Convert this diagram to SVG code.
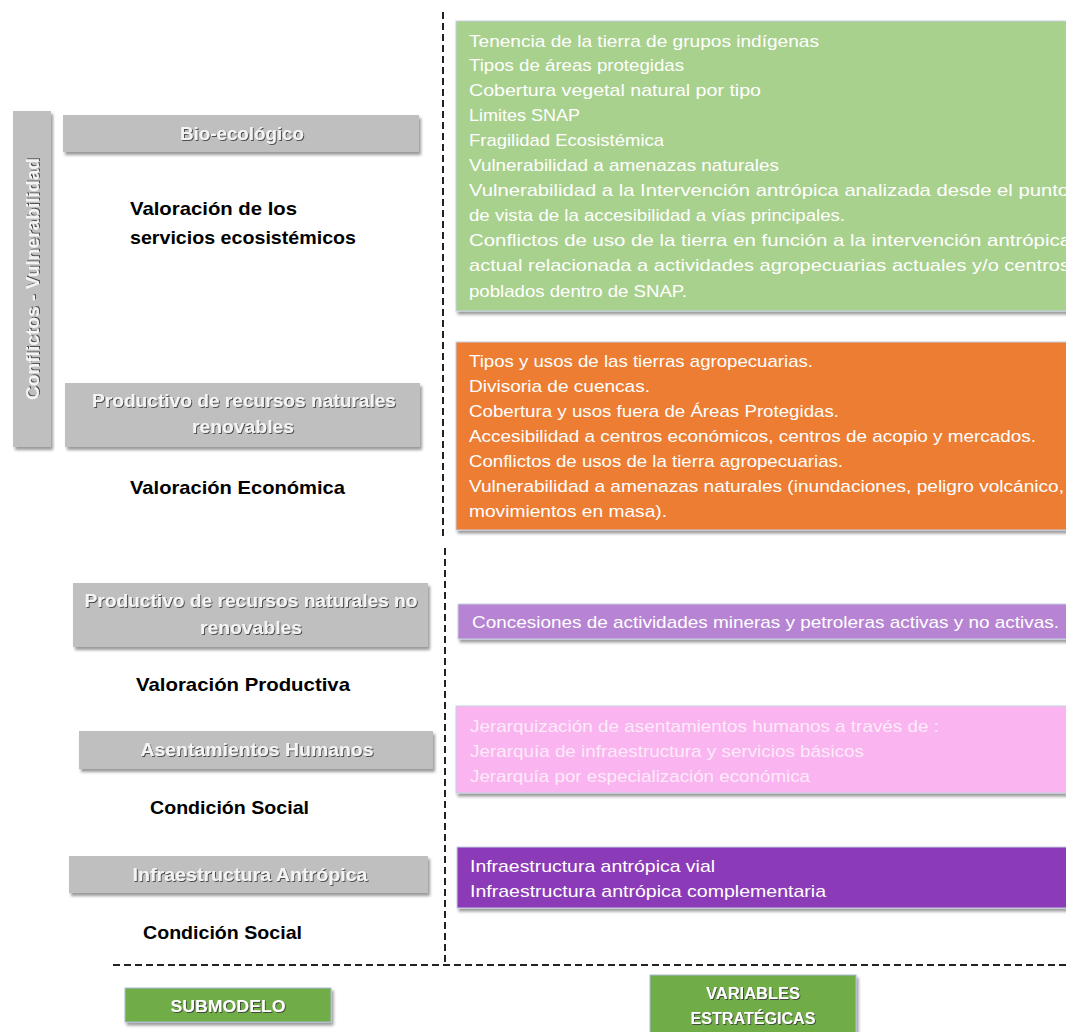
<svg xmlns="http://www.w3.org/2000/svg" width="1066" height="1032" viewBox="0 0 1066 1032">
<defs>
<filter id="sh" x="-5%" y="-20%" width="115%" height="160%">
<feDropShadow dx="2" dy="3" stdDeviation="1.5" flood-color="#000" flood-opacity="0.4"/>
</filter>
<filter id="tsh" x="-5%" y="-30%" width="110%" height="160%">
<feDropShadow dx="1" dy="1" stdDeviation="0.7" flood-color="#3a3a3a" flood-opacity="0.85"/>
</filter>
<style>
.gb{fill:#BFBFBF;filter:url(#sh);}
.gt{font-family:"Liberation Sans",Arial,sans-serif;font-weight:bold;font-size:18px;fill:#F4F4F4;text-anchor:middle;filter:url(#tsh);}
.bt{font-family:"Liberation Sans",Arial,sans-serif;font-weight:bold;font-size:19px;fill:#000;}
.vb{stroke:#C5D0E2;stroke-width:1;filter:url(#sh);}
.vt{font-family:"Liberation Sans",Arial,sans-serif;font-size:17px;fill:#fff;}
.pk{fill:#FDEBFA;}
.dash{fill:none;stroke:#222;stroke-width:2;stroke-dasharray:7 4;}
.bg{fill:#70AD47;stroke:#A9BCD8;stroke-width:1;filter:url(#sh);}
.bgt{font-family:"Liberation Sans",Arial,sans-serif;font-weight:bold;font-size:16px;fill:#fff;text-anchor:middle;filter:url(#tsh);}
</style>
</defs>
<rect width="1066" height="1032" fill="#fff"/>

<g id="connectors">
<line class="dash" x1="443" y1="12" x2="443" y2="538"/>
<line class="dash" x1="445" y1="548" x2="445" y2="962"/>
<line class="dash" x1="113" y1="965" x2="1066" y2="965"/>
</g>

<g id="conflictos">
<rect class="gb" x="13" y="111" width="38" height="336"/>
<text class="gt" transform="translate(39,279) rotate(-90)" textLength="242" lengthAdjust="spacingAndGlyphs">Conflictos - Vulnerabilidad</text>
</g>

<g id="bio">
<rect class="gb" x="63" y="115" width="356" height="37"/>
<text class="gt" x="242" y="140" textLength="124" lengthAdjust="spacingAndGlyphs">Bio-ecológico</text>
</g>
<g id="val-eco">
<text class="bt" x="130" y="215" textLength="167" lengthAdjust="spacingAndGlyphs">Valoración de los</text>
<text class="bt" x="130" y="244" textLength="226" lengthAdjust="spacingAndGlyphs">servicios ecosistémicos</text>
</g>

<g id="prod-ren">
<rect class="gb" x="65" y="383" width="355" height="64"/>
<text class="gt" x="244" y="407" textLength="304" lengthAdjust="spacingAndGlyphs">Productivo de recursos naturales</text>
<text class="gt" x="243" y="433" textLength="102" lengthAdjust="spacingAndGlyphs">renovables</text>
</g>
<g id="val-econ">
<text class="bt" x="130" y="494" textLength="215" lengthAdjust="spacingAndGlyphs">Valoración Económica</text>
</g>

<g id="prod-noren">
<rect class="gb" x="73" y="583" width="355" height="64"/>
<text class="gt" x="251" y="607" textLength="333" lengthAdjust="spacingAndGlyphs">Productivo de recursos naturales no</text>
<text class="gt" x="251" y="634" textLength="102" lengthAdjust="spacingAndGlyphs">renovables</text>
</g>
<g id="val-prod">
<text class="bt" x="136" y="691" textLength="214" lengthAdjust="spacingAndGlyphs">Valoración Productiva</text>
</g>

<g id="asent">
<rect class="gb" x="79" y="731" width="354" height="38"/>
<text class="gt" x="257" y="756" textLength="233" lengthAdjust="spacingAndGlyphs">Asentamientos Humanos</text>
</g>
<g id="cond1">
<text class="bt" x="150" y="814" textLength="159" lengthAdjust="spacingAndGlyphs">Condición Social</text>
</g>

<g id="infra">
<rect class="gb" x="69" y="856" width="359" height="37"/>
<text class="gt" x="250" y="881" textLength="235" lengthAdjust="spacingAndGlyphs">Infraestructura Antrópica</text>
</g>
<g id="cond2">
<text class="bt" x="143" y="939" textLength="159" lengthAdjust="spacingAndGlyphs">Condición Social</text>
</g>

<g id="var-bio">
<rect class="vb" x="456" y="21" width="620" height="290" fill="#A9D18E"/>
<text class="vt" x="469" y="47" textLength="350" lengthAdjust="spacingAndGlyphs">Tenencia de la tierra  de grupos indígenas</text>
<text class="vt" x="469" y="71" textLength="215" lengthAdjust="spacingAndGlyphs">Tipos de áreas protegidas</text>
<text class="vt" x="469" y="96" textLength="292" lengthAdjust="spacingAndGlyphs">Cobertura vegetal natural  por tipo</text>
<text class="vt" x="469" y="121" textLength="111" lengthAdjust="spacingAndGlyphs">Limites SNAP</text>
<text class="vt" x="469" y="146" textLength="195" lengthAdjust="spacingAndGlyphs">Fragilidad Ecosistémica</text>
<text class="vt" x="469" y="171" textLength="310" lengthAdjust="spacingAndGlyphs">Vulnerabilidad a amenazas naturales</text>
<text class="vt" x="469" y="196" textLength="600" lengthAdjust="spacingAndGlyphs">Vulnerabilidad a la Intervención  antrópica analizada desde el punto</text>
<text class="vt" x="469" y="221" textLength="376" lengthAdjust="spacingAndGlyphs">de vista de la accesibilidad a vías principales.</text>
<text class="vt" x="469" y="246" textLength="602" lengthAdjust="spacingAndGlyphs">Conflictos de uso  de la tierra en función a la intervención antrópica</text>
<text class="vt" x="469" y="271" textLength="601" lengthAdjust="spacingAndGlyphs">actual relacionada a actividades agropecuarias actuales y/o centros</text>
<text class="vt" x="469" y="297" textLength="218" lengthAdjust="spacingAndGlyphs">poblados dentro de SNAP.</text>
</g>

<g id="var-prod-ren">
<rect class="vb" x="456" y="342" width="620" height="188" fill="#ED7D31"/>
<text class="vt" x="469" y="367" textLength="344" lengthAdjust="spacingAndGlyphs">Tipos y usos de las tierras agropecuarias.</text>
<text class="vt" x="469" y="392" textLength="181" lengthAdjust="spacingAndGlyphs">Divisoria de cuencas.</text>
<text class="vt" x="469" y="417" textLength="370" lengthAdjust="spacingAndGlyphs">Cobertura y usos fuera de Áreas Protegidas.</text>
<text class="vt" x="469" y="442" textLength="567" lengthAdjust="spacingAndGlyphs">Accesibilidad a centros económicos, centros de acopio y mercados.</text>
<text class="vt" x="469" y="467" textLength="374" lengthAdjust="spacingAndGlyphs">Conflictos de usos de la tierra agropecuarias.</text>
<text class="vt" x="469" y="492" textLength="595" lengthAdjust="spacingAndGlyphs">Vulnerabilidad a amenazas naturales (inundaciones, peligro volcánico,</text>
<text class="vt" x="469" y="517" textLength="198" lengthAdjust="spacingAndGlyphs">movimientos en masa).</text>
</g>

<g id="var-prod-noren">
<rect class="vb" x="458" y="604" width="620" height="35" fill="#B784D4"/>
<text class="vt" x="472" y="628" textLength="587" lengthAdjust="spacingAndGlyphs">Concesiones de  actividades mineras y petroleras activas y no activas.</text>
</g>

<g id="var-asent">
<rect class="vb" x="456" y="706" width="620" height="87" fill="#FAB4F0"/>
<text class="vt pk" x="470" y="732" textLength="469" lengthAdjust="spacingAndGlyphs">Jerarquización de asentamientos humanos a través de :</text>
<text class="vt pk" x="470" y="757" textLength="394" lengthAdjust="spacingAndGlyphs">Jerarquía de infraestructura y servicios básicos</text>
<text class="vt pk" x="470" y="782" textLength="340" lengthAdjust="spacingAndGlyphs">Jerarquía por especialización económica</text>
</g>

<g id="var-infra">
<rect class="vb" x="457" y="847" width="620" height="61" fill="#8C3AB8"/>
<text class="vt" x="470" y="872" textLength="245" lengthAdjust="spacingAndGlyphs">Infraestructura antrópica vial</text>
<text class="vt" x="470" y="897" textLength="356" lengthAdjust="spacingAndGlyphs">Infraestructura antrópica complementaria</text>
</g>

<g id="submodelo">
<rect class="bg" x="125" y="988" width="206" height="34"/>
<text class="bgt" x="228" y="1012" textLength="115" lengthAdjust="spacingAndGlyphs">SUBMODELO</text>
</g>
<g id="variables">
<rect class="bg" x="650" y="975" width="206" height="62"/>
<text class="bgt" x="753" y="999" textLength="94" lengthAdjust="spacingAndGlyphs">VARIABLES</text>
<text class="bgt" x="753" y="1024" textLength="125" lengthAdjust="spacingAndGlyphs">ESTRATÉGICAS</text>
</g>
</svg>
